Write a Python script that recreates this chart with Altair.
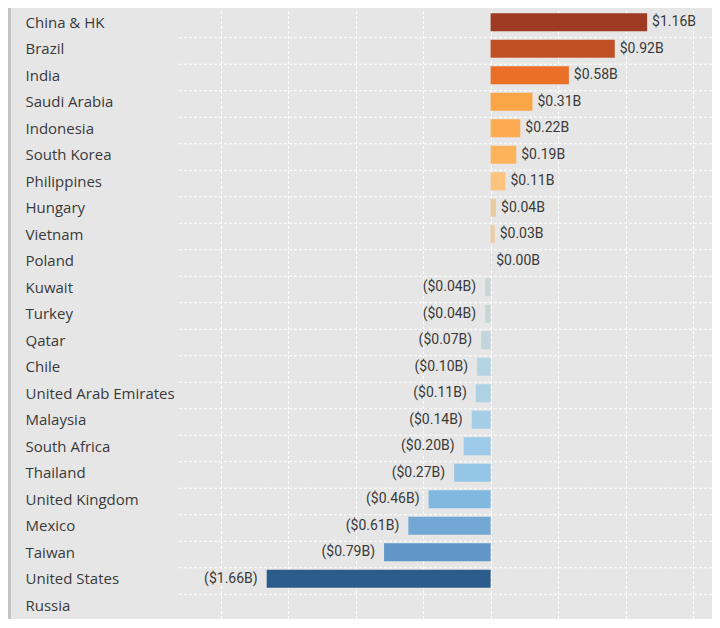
import altair as alt
import pandas as pd

countries = ["China & HK", "Brazil", "India", "Saudi Arabia", "Indonesia", "South Korea",
             "Philippines", "Hungary", "Vietnam", "Poland", "Kuwait", "Turkey", "Qatar",
             "Chile", "United Arab Emirates", "Malaysia", "South Africa", "Thailand",
             "United Kingdom", "Mexico", "Taiwan", "United States", "Russia"]
values = [1.16, 0.92, 0.58, 0.31, 0.22, 0.19, 0.11, 0.04, 0.03, 0.004, -0.04, -0.04, -0.07,
          -0.10, -0.11, -0.14, -0.20, -0.27, -0.46, -0.61, -0.79, -1.66, None]
labels = ["$1.16B", "$0.92B", "$0.58B", "$0.31B", "$0.22B", "$0.19B", "$0.11B", "$0.04B",
          "$0.03B", "$0.00B", "($0.04B)", "($0.04B)", "($0.07B)", "($0.10B)", "($0.11B)",
          "($0.14B)", "($0.20B)", "($0.27B)", "($0.46B)", "($0.61B)", "($0.79B)", "($1.66B)", ""]
colors = ["#9f3b22", "#c14f25", "#eb7027", "#fca547", "#fdab50", "#fdb35c", "#fdc47d",
          "#eccaa0", "#eccba3", "#d9d2c8", "#c8d6d5", "#c8d6d5", "#c2d5dc", "#b5d4e1",
          "#aed1e3", "#a4cde6", "#9ccae8", "#94c5e6", "#81b8e0", "#73a8d4", "#6197c8",
          "#2c5c8c", "#cccccc"]
grid_values = [-2.0, -1.5, -1.0, -0.5, 0.0, 0.5, 1.0, 1.5]

df = pd.DataFrame({"country": countries, "value": values, "label": labels, "color": colors})
df["pos"] = df["value"].apply(lambda v: v is not None and v == v and v >= 0)

W = 533
H = 609.5
LABEL_FONT = "Open Sans"
VALUE_FONT = "Roboto"

ysc = alt.Scale(domain=countries, paddingInner=0.32, paddingOuter=0.16)
xsc = alt.Scale(domain=[-2.31, 1.641], nice=False, zero=False)

yenc = alt.Y("country:N", sort=countries, scale=ysc,
             axis=alt.Axis(title=None, ticks=False, tickSize=0, domain=False, grid=False,
                           labelAlign="left", labelPadding=154, labelFont=LABEL_FONT,
                           labelFontSize=15, labelColor="#3a3a3a", labelLimit=200,
                           labelOffset=0.5))
xenc = alt.X("value:Q", scale=xsc,
             axis=alt.Axis(title=None, labels=False, ticks=False, domain=False, grid=True,
                           values=grid_values, gridColor="#ffffff", gridDash=[3, 2],
                           gridWidth=1, gridOpacity=1))

bars = alt.Chart(df).mark_bar().encode(
    y=yenc, x=xenc, color=alt.Color("color:N", scale=None)
)

hgrid = alt.Chart(df.iloc[1:]).mark_rule(color="#ffffff", strokeDash=[3, 2], strokeWidth=1,
                                         yOffset=-2).encode(
    y=alt.Y("country:N", sort=countries, scale=ysc, bandPosition=0)
)

pos_text = alt.Chart(df[df["pos"]]).mark_text(align="left", baseline="middle", dx=5,
                                              font=VALUE_FONT, fontSize=14, color="#3a3a3a").encode(
    y=alt.Y("country:N", sort=countries, scale=ysc), x=alt.X("value:Q", scale=xsc), text="label:N"
)
neg_text = alt.Chart(df[(~df["pos"]) & df["value"].notna()]).mark_text(
    align="right", baseline="middle", dx=-9, font=VALUE_FONT, fontSize=14, color="#3a3a3a").encode(
    y=alt.Y("country:N", sort=countries, scale=ysc), x=alt.X("value:Q", scale=xsc), text="label:N"
)

left_border = alt.Chart(df.iloc[:1]).mark_rule(color="#c4c4c4", strokeWidth=3).encode(
    x=alt.value(-169.5), y=alt.value(-10), y2=alt.value(H + 20)
)

chart = alt.layer(hgrid, bars, pos_text, neg_text, left_border).properties(
    width=W, height=H,
    autosize=alt.AutoSizeParams(type="none"),
    padding={"left": 171, "top": 1, "right": 0, "bottom": 0},
    background="#e6e6e6",
).configure_view(stroke=None)

chart.save("out.html", embed_options={"renderer": "svg", "actions": False})
